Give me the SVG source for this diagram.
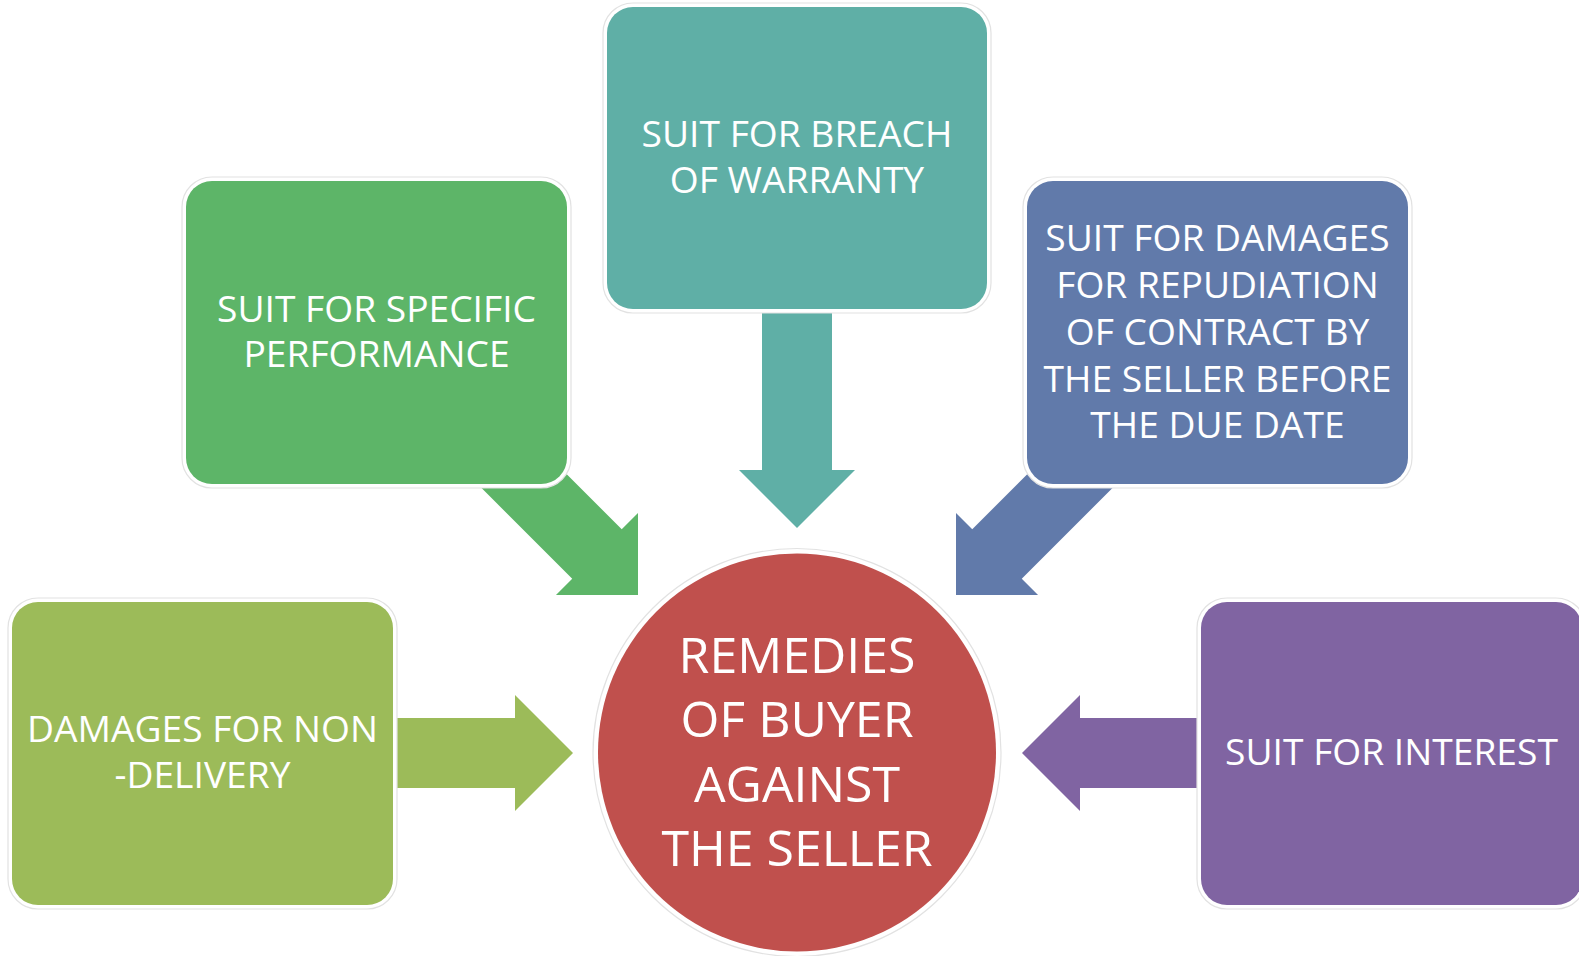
<svg xmlns="http://www.w3.org/2000/svg" width="1579" height="956" viewBox="0 0 1579 956">
<style>
.halo{fill:#ffffff;stroke:#e2e2e2;stroke-width:1.2}
.lbl{font-family:"Open Sans","Noto Sans","Liberation Sans",sans-serif;font-size:37.2px;fill:#ffffff;text-anchor:middle}
.big{font-size:50px}
</style>
<defs>
<path id="arr" d="M0,0 L-58,-58 L-58,-35 L-240,-35 L-240,35 L-58,35 L-58,58 Z"/>
</defs>
<rect width="1579" height="956" fill="#ffffff"/>
<g id="connectors">
<use href="#arr" fill="#9CBB59" transform="translate(573,753)"/>
<use href="#arr" fill="#8064A2" transform="translate(1022,753) rotate(180)"/>
<use href="#arr" fill="#5FAFA6" transform="translate(797,528) rotate(90)"/>
<use href="#arr" fill="#5DB568" transform="translate(638,595) rotate(45)"/>
<use href="#arr" fill="#617AAA" transform="translate(956,595) rotate(135)"/>
</g>
<g id="node-specific">
<rect class="halo" x="182" y="177" width="389" height="311" rx="30"/>
<rect x="186" y="181" width="381" height="303" rx="26" fill="#5DB568"/>
<text class="lbl" x="376.5" y="322">SUIT FOR SPECIFIC</text>
<text class="lbl" x="376.5" y="367">PERFORMANCE</text>
</g>
<g id="node-warranty">
<rect class="halo" x="603" y="3" width="388" height="310" rx="30"/>
<rect x="607" y="7" width="380" height="302" rx="26" fill="#5FAFA6"/>
<text class="lbl" x="797" y="147">SUIT FOR BREACH</text>
<text class="lbl" x="797" y="193">OF WARRANTY</text>
</g>
<g id="node-repudiation">
<rect class="halo" x="1023" y="177" width="389" height="311" rx="30"/>
<rect x="1027" y="181" width="381" height="303" rx="26" fill="#617AAA"/>
<text class="lbl" x="1217.5" y="251">SUIT FOR DAMAGES</text>
<text class="lbl" x="1217.5" y="298">FOR REPUDIATION</text>
<text class="lbl" x="1217.5" y="345">OF CONTRACT BY</text>
<text class="lbl" x="1217.5" y="392">THE SELLER BEFORE</text>
<text class="lbl" x="1217.5" y="438">THE DUE DATE</text>
</g>
<g id="node-nondelivery">
<rect class="halo" x="8" y="598" width="389" height="311" rx="30"/>
<rect x="12" y="602" width="381" height="303" rx="26" fill="#9CBB59"/>
<text class="lbl" x="202.5" y="742">DAMAGES FOR NON</text>
<text class="lbl" x="202.5" y="788">-DELIVERY</text>
</g>
<g id="node-interest">
<rect class="halo" x="1197" y="598" width="389" height="311" rx="30"/>
<rect x="1201" y="602" width="381" height="303" rx="26" fill="#8064A2"/>
<text class="lbl" x="1391.5" y="765">SUIT FOR INTEREST</text>
</g>
<g id="node-center">
<circle class="halo" cx="797" cy="752.5" r="204"/>
<circle cx="797" cy="752.5" r="199" fill="#C0504D"/>
<text class="lbl big" x="797" y="673">REMEDIES</text>
<text class="lbl big" x="797" y="737">OF BUYER</text>
<text class="lbl big" x="797" y="802">AGAINST</text>
<text class="lbl big" x="797" y="866">THE SELLER</text>
</g>
</svg>
